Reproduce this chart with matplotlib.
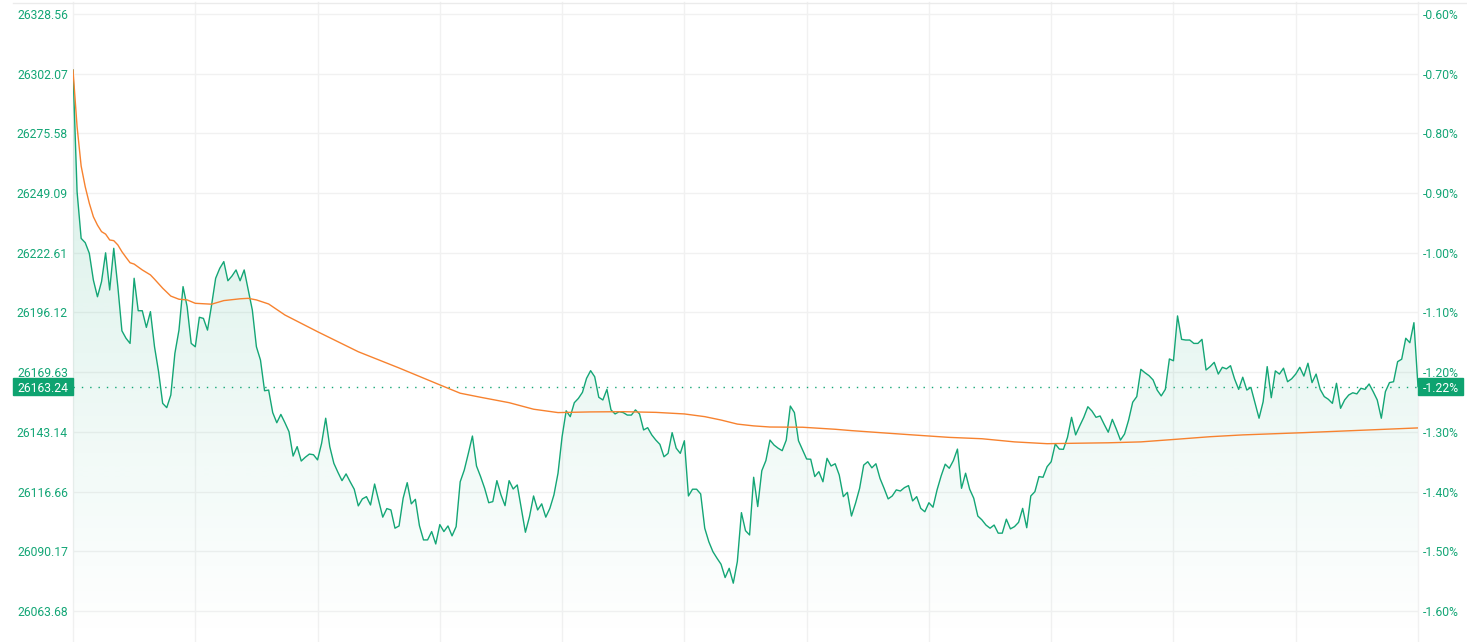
"""
恒指分时走势图 (价格 + 均价线)
"""

import numpy as np
import matplotlib
matplotlib.use('Agg')
import matplotlib.pyplot as plt
import matplotlib.transforms as mtransforms
from matplotlib.colors import to_rgb
from matplotlib.lines import Line2D
from matplotlib.patches import Rectangle

plt.rcParams['font.family'] = ['Roboto', 'DejaVu Sans']

# 每分钟价格 (09:30 - 16:00, 共331个点)
price_values = [
    26303.7, 26249.7, 26229.0, 26227.1, 26222.4, 26210.5, 26203.1, 26209.8, 26222.6, 26206.1,
    26224.6, 26207.6, 26188.0, 26184.7, 26182.4, 26211.3, 26196.9, 26196.9, 26189.5, 26196.5,
    26180.9, 26169.8, 26155.8, 26153.9, 26159.5, 26178.0, 26188.3, 26207.6, 26198.7, 26182.4,
    26180.9, 26194.0, 26193.5, 26188.3, 26199.4, 26211.3, 26215.7, 26218.7, 26210.2, 26212.3,
    26215.0, 26210.2, 26215.0, 26206.1, 26197.2, 26180.9, 26175.0, 26161.4, 26161.7,
    26151.7, 26147.2, 26150.9, 26147.2, 26143.2, 26132.4, 26136.6, 26130.2, 26131.9, 26133.3,
    26133.0, 26130.7, 26138.1, 26149.2, 26136.6, 26129.2, 26125.2, 26121.5, 26124.5, 26121.0,
    26117.7, 26110.3, 26113.4, 26114.4, 26110.7, 26120.0, 26112.6, 26105.3, 26109.1, 26108.5,
    26100.4, 26101.4, 26113.7, 26120.6, 26111.2, 26113.2, 26101.5, 26095.2, 26095.2, 26098.9,
    26093.4, 26102.0, 26098.9, 26101.4, 26097.0, 26101.1,
    26121.0, 26126.2, 26133.6, 26141.3, 26128.0, 26123.3, 26118.1, 26111.7, 26112.2, 26121.5,
    26115.2, 26110.4, 26121.5, 26117.8, 26119.6, 26109.2, 26098.6, 26105.5, 26114.7, 26108.5,
    26111.2, 26105.3, 26109.2, 26115.2, 26124.8, 26141.0, 26152.5, 26149.9, 26156.1, 26158.0,
    26160.7, 26166.9, 26170.3, 26167.6, 26158.5, 26157.3, 26162.0, 26152.9, 26151.1, 26152.1,
    26151.7, 26150.6, 26150.6, 26152.9, 26151.1, 26144.0, 26145.0, 26141.8, 26139.5,
    26137.6, 26132.1, 26133.6, 26142.8, 26135.9, 26133.6, 26139.2, 26114.7, 26117.7, 26117.7,
    26115.6, 26100.4, 26094.4, 26090.0, 26087.1, 26084.4, 26078.5, 26082.6, 26076.0, 26085.6,
    26107.3, 26099.3, 26097.4, 26123.0, 26110.0, 26125.9, 26130.4, 26139.5, 26137.3, 26135.9,
    26134.8, 26139.5, 26154.6, 26151.7, 26139.2, 26135.1, 26131.1, 26131.0, 26123.3, 26125.5,
    26121.0, 26131.4, 26128.0, 26129.0, 26124.0, 26114.4, 26116.3, 26105.8,
    26111.5, 26118.1, 26128.4, 26129.9, 26127.2, 26129.0, 26122.5, 26118.1, 26113.4, 26114.7,
    26117.4, 26116.9, 26118.4, 26119.3, 26112.5, 26114.4, 26109.2, 26107.7, 26111.7, 26109.7,
    26117.4, 26123.6, 26128.8, 26127.0, 26130.4, 26135.5, 26118.1, 26124.8, 26117.7, 26113.7,
    26105.8, 26104.1, 26101.8, 26100.4, 26101.8, 26098.2, 26098.2, 26104.4, 26100.1, 26101.1,
    26103.0, 26109.2, 26100.6, 26114.7, 26116.6, 26123.3, 26123.0, 26127.7,
    26129.9, 26137.8, 26135.5, 26135.4, 26140.7, 26149.6, 26141.8, 26145.8, 26149.6, 26154.3,
    26152.4, 26149.6, 26150.2, 26146.5, 26143.0, 26148.7, 26144.3, 26139.5, 26142.2, 26148.4,
    26156.3, 26158.8, 26170.9, 26169.4, 26168.1, 26166.2, 26161.7, 26159.1, 26162.0, 26175.5,
    26174.7, 26194.6, 26184.2, 26183.9, 26183.9, 26182.4, 26182.4, 26184.2, 26170.6, 26172.1,
    26174.0, 26168.8, 26171.8, 26171.1, 26172.5, 26166.6, 26162.0, 26167.4,
    26161.7, 26162.9, 26156.1, 26149.2, 26156.5, 26172.1, 26158.3, 26170.2, 26168.8, 26171.4,
    26165.4, 26166.7, 26168.8, 26171.8, 26167.9, 26173.6, 26165.0, 26168.8, 26162.0, 26158.8,
    26157.6, 26155.8, 26164.7, 26153.6, 26157.3, 26159.5, 26160.5, 26160.0, 26162.5, 26162.0,
    26164.4, 26161.0, 26157.3, 26149.2, 26161.0, 26165.0, 26165.4, 26174.3, 26175.4, 26184.7,
    26182.7, 26191.6, 26163.24,
]

# 均价线 (分钟序号, 均价)
avg_minutes = [0, 1, 2, 3, 4, 5, 6, 7, 8, 9, 10, 11, 12, 13, 14, 15,
               17, 19, 20, 22, 24, 26, 28, 30, 34, 37, 41, 43, 45, 48, 52, 60,
               70, 80, 90, 95, 100, 107, 113, 119, 127, 135, 143, 150, 155, 159, 163, 167,
               171, 179, 187, 191, 198, 206, 215, 223, 231, 239, 246, 254, 262, 271, 279, 287,
               302, 318, 330]
avg_values = [26303.7, 26278.6, 26261.1, 26251.9, 26244.6, 26238.6, 26234.9, 26232.0,
              26230.9, 26228.3, 26228.0, 26226.1, 26223.1, 26220.6, 26218.2, 26217.6,
              26215.0, 26212.8, 26210.9, 26206.9, 26203.4, 26202.0, 26201.7, 26200.2,
              26199.8, 26201.4, 26202.2, 26202.4, 26201.7, 26199.9, 26195.0, 26187.6,
              26178.7, 26171.5, 26164.0, 26160.3, 26158.5, 26156.1, 26153.2, 26151.7,
              26152.0, 26152.1, 26151.8, 26151.1, 26149.9, 26148.4, 26146.6, 26145.8,
              26145.3, 26145.2, 26144.3, 26143.7, 26142.8, 26141.8, 26140.7, 26140.1,
              26138.7, 26137.9, 26138.1, 26138.3, 26138.7, 26139.9, 26141.0, 26141.8,
              26142.8, 26144.0, 26144.9]

# 坐标轴刻度
price_ticks = [26328.56, 26302.07, 26275.58, 26249.09, 26222.61, 26196.12,
               26169.63, 26143.14, 26116.66, 26090.17, 26063.68]
price_tick_labels = ['26328.56', '26302.07', '26275.58', '26249.09', '26222.61', '26196.12',
                     '26169.63', '26143.14', '26116.66', '26090.17', '26063.68']
pct_tick_labels = ['-0.60%', '-0.70%', '-0.80%', '-0.90%', '-1.00%', '-1.10%',
                   '-1.20%', '-1.30%', '-1.40%', '-1.50%', '-1.60%']

last_price = 26163.24
last_price_label = '26163.24'
last_pct_label = '-1.22%'

y_limits = (26049.9, 26333.9)
session_minutes = 330
grid_step = 30

# 颜色
GREEN = '#14a676'
BOX_GREEN = '#0ea370'
ORANGE = '#f7822f'
GRID = '#f1f1f1'
FONT_SIZE = 8.7

W, H = 1467, 642
ax_left, ax_width, ax_height = 73, 1345, 640

fig = plt.figure(figsize=(W / 100, H / 100), dpi=100)
ax = fig.add_axes([ax_left / W, 0, ax_width / W, ax_height / H])
minutes = np.arange(len(price_values))

# 网格
for m in range(0, session_minutes + 1, grid_step):
    ax.axvline(m, color=GRID, lw=1, zorder=0, clip_on=False)
for t in price_ticks:
    ax.axhline(t, color=GRID, lw=1, zorder=0)

# 渐变填充
fill = ax.fill_between(minutes, price_values, y_limits[0], facecolor='none', edgecolor='none')
grad = np.zeros((256, 1, 4))
grad[..., :3] = to_rgb(GREEN)
grad[:, 0, 3] = np.linspace(0.2, 0.0, 256)
im = ax.imshow(grad, extent=[0, session_minutes, y_limits[0], y_limits[1]],
               aspect='auto', origin='upper', zorder=1, interpolation='bilinear')
im.set_clip_path(fill.get_paths()[0], transform=ax.transData)

# 价格线和均价线
ax.plot(minutes, price_values, color=GREEN, lw=1.0, zorder=3)
ax.plot(avg_minutes, avg_values, color=ORANGE, lw=1.0, zorder=4)

# 最新价虚线
ax.axhline(last_price, color=GREEN, lw=1, ls=(0, (1, 5)), zorder=2)

ax.set_xlim(0, session_minutes)
ax.set_ylim(*y_limits)
ax.set_xticks([])
ax.set_yticks(price_ticks, price_tick_labels)
ax.tick_params(axis='y', length=0, pad=3.6, labelsize=FONT_SIZE, labelcolor=GREEN)

ax2 = ax.twinx()
ax2.set_ylim(*y_limits)
ax2.set_yticks(price_ticks, pct_tick_labels)
ax2.tick_params(axis='y', length=0, pad=3.6, labelsize=FONT_SIZE, labelcolor=GREEN)

for a in (ax, ax2):
    for s in a.spines.values():
        s.set_visible(False)

# 最新价标签
blend = mtransforms.blended_transform_factory(ax.transAxes, ax.transData)
data_per_px = (y_limits[1] - y_limits[0]) / ax_height
box_h = 17 * data_per_px
ax.add_patch(Rectangle((-60 / ax_width, last_price - box_h / 2), 60 / ax_width, box_h,
                       transform=blend, color=BOX_GREEN, clip_on=False, zorder=5))
ax.add_patch(Rectangle((1, last_price - box_h / 2), 45 / ax_width, box_h,
                       transform=blend, color=BOX_GREEN, clip_on=False, zorder=5))
ax.text(-5 / ax_width, last_price, last_price_label, transform=blend, ha='right',
        va='center_baseline', color='white', fontsize=FONT_SIZE, zorder=6, clip_on=False)
ax.text(1 + 5 / ax_width, last_price, last_pct_label, transform=blend, ha='left',
        va='center_baseline', color='white', fontsize=FONT_SIZE, zorder=6, clip_on=False)

# 顶部分隔线
fig.add_artist(Line2D([13 / W, 1], [1 - 2.5 / H] * 2, color='#ebebeb', lw=1,
                      transform=fig.transFigure))

fig.savefig('out.png', dpi=100)
